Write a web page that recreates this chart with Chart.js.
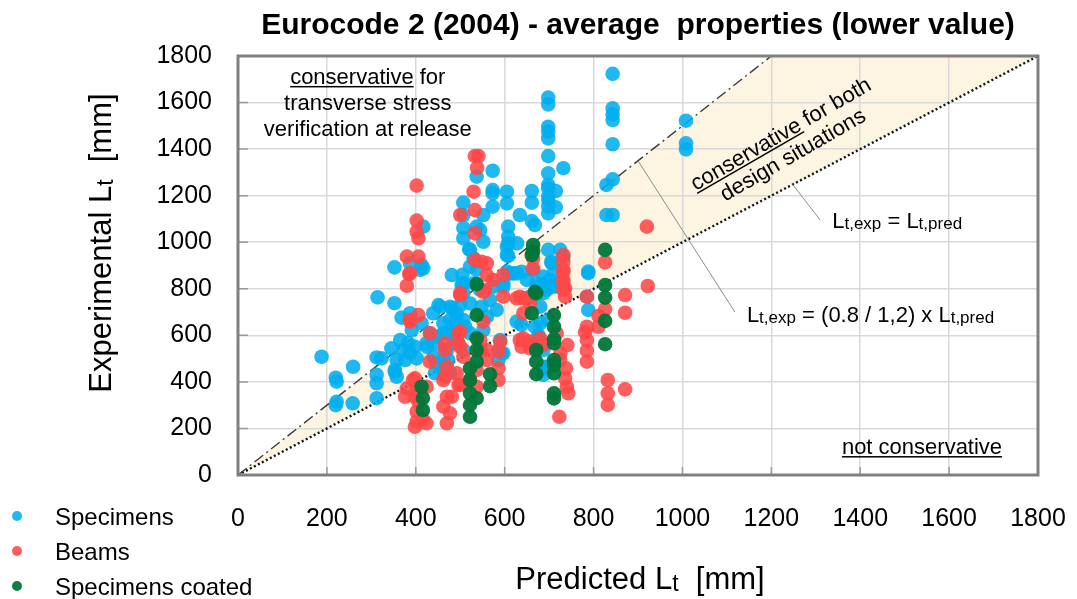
<!DOCTYPE html>
<html>
<head>
<meta charset="utf-8">
<title>Eurocode 2 (2004) - average properties (lower value)</title>
<script src="https://cdn.jsdelivr.net/npm/chart.js@4.4.1/dist/chart.umd.min.js"></script>
<style>
  html, body { margin: 0; padding: 0; background: #fff; }
  #wrap { position: relative; width: 1077px; height: 599px; }
</style>
</head>
<body>
<div id="wrap"><canvas id="ltChart"></canvas></div>
<script>
/* Transfer length: predicted vs experimental (EC2 average properties, lower value) */

// --- Data [Lt,pred, Lt,exp] in mm ---
const tickValues = [0, 200, 400, 600, 800, 1000, 1200, 1400, 1600, 1800];

const specimens = [
  [188,508],[220,418],[222,401],[222,315],[220,300],[259,465],[258,308],
  [312,505],[323,501],[312,430],[312,394],[312,330],[314,763],[352,738],[352,892],
  [368,676],[353,451],[357,422],[345,544],[365,580],[376,494],[387,524],[383,567],
  [357,494],[353,444],[372,537],[391,623],[398,551],[402,501],[425,551],[432,609],
  [439,695],[447,566],[455,723],[462,609],[470,537],[473,494],[481,716],[485,637],
  [492,680],[500,730],[507,780],[511,637],[522,737],[522,609],[530,823],[537,881],
  [545,795],[548,723],[552,623],[560,680],[567,752],[575,809],[582,709],[590,580],
  [593,523],[597,823],[605,874],[612,866],[627,866],[627,659],[650,838],[657,766],
  [664,881],[672,823],[680,723],[687,852],[695,795],[702,838],[706,909],[713,809],
  [732,938],[788,874],[785,766],[788,709],[680,652],[676,594],[687,537],[687,465],
  [586,537],[586,494],[447,480],[462,451],[443,437],[477,666],[492,580],[410,881],
  [387,909],[387,695],[413,652],[451,730],[462,652],[477,723],[492,695],[507,666],
  [424,566],[447,594],[470,609],[492,623],[440,508],[462,494],[485,566],[507,537],
  [477,437],[413,902],[417,888],[481,859],[507,823],[522,895],[530,931],[619,866],
  [597,809],[638,873],[676,809],[694,823],[710,866],[702,809],[687,781],[698,666],
  [676,580],[694,465],[605,945],[687,458],[687,430],[668,637],[676,601],[597,523],
  [638,645],[417,1067],[520,970],[505,860],[507,1170],[507,1117],[552,1117],[507,1062],
  [537,1067],[545,1052],[552,1002],[507,1017],[537,1282],[503,816],[522,967],
  [573,1307],[573,1224],[573,1210],[573,1153],[605,1217],[605,1167],[608,1067],
  [608,1024],[608,995],[608,941],[605,981],[634,1117],[628,995],
  [661,1220],[661,1170],[661,1091],[668,1074],
  [698,1621],[698,1592],[698,1496],[698,1475],[698,1446],[698,1370],[698,1296],
  [698,1246],[698,1232],[698,1196],[698,1181],[698,1153],[698,1124],[715,1220],
  [715,1150],[698,967],[725,967],[705,916],[732,1318],[788,867],
  [843,1723],[843,1575],[843,1550],[843,1525],[843,1421],[843,1270],[829,1246],
  [829,1117],[843,1117],[1008,1522],[1008,1425],[1008,1399]
];

const beams = [
  [402,1243],[533,1370],[541,1370],[538,1320],[530,1217],[533,1138],[500,1117],[533,1038],
  [402,1093],[402,1045],[406,1017],[380,938],[406,938],[385,863],[380,813],[533,924],
  [548,916],[560,909],[552,787],[500,773],[920,1067],[826,914],[922,812],[871,773],
  [732,945],[732,916],[732,873],[732,830],[736,802],[664,888],[664,931],[785,766],
  [871,697],[826,712],[811,683],[811,637],[785,637],[781,613],[785,580],[785,534],
  [785,487],[832,408],[832,351],[832,301],[871,368],[723,250],[741,558],[725,523],
  [725,494],[738,458],[736,415],[740,379],[743,351],[717,609],[657,573],[634,580],
  [638,551],[642,695],[634,766],[649,759],[586,458],[586,408],[590,573],[586,530],
  [556,795],[597,766],[387,666],[406,687],[432,609],[432,487],[466,566],[466,537],
  [496,609],[496,566],[380,372],[394,408],[398,336],[402,272],[398,207],[417,236],
  [424,379],[680,587],[642,587],[657,544],[687,558],[627,759],[642,759],[657,738],
  [732,881],[732,838],[732,795],[736,766],[597,859],[574,838],[560,859],[552,659],
  [545,580],[545,537],[560,537],[560,494],[537,451],[537,379],[522,408],[500,781],
  [500,616],[500,551],[492,437],[500,387],[507,508],[387,866],[398,415],[402,358],
  [406,315],[402,229],[424,222],[376,336],[462,408],[470,336],[462,294],[477,265],
  [470,222],[496,387],[481,336],[470,465],[466,422],[387,659]
];

const coated = [
  [537,820],[664,988],[664,960],[661,945],[826,967],[826,816],[826,762],[668,787],
  [826,662],[826,562],[711,687],[711,637],[711,583],[711,566],[711,494],[711,473],
  [711,437],[711,351],[711,329],[671,537],[671,487],[671,433],[661,695],[671,780],
  [567,433],[567,382],[537,687],[537,587],[537,537],[537,487],[522,458],[522,408],
  [522,351],[522,301],[522,250],[537,330],[413,379],[416,330],[416,279]
];

// reference lines: Lt,exp = 1.5 Lt,pred and Lt,exp = Lt,pred
const upperLimit = [[0, 0], [1200, 1800]];
const equalLine = [[0, 0], [1800, 1800]];

// leader lines for the two line labels (data units)
const leaders = [
  [[900, 1350], [1118, 700]],
  [[1248, 1248], [1310, 1095]]
];

const FONT = "'Liberation Sans', Arial, sans-serif";
const COL_SPEC = 'rgba(0,174,239,0.88)';
const COL_BEAM = 'rgba(255,72,72,0.88)';
const COL_COAT = 'rgba(0,118,56,0.95)';

const toPts = arr => arr.map(p => ({ x: p[0], y: p[1] }));

// --- Text helpers ---
function richWidth(ctx, parts) {
    let w = 0;
    parts.forEach(p => { ctx.font = p.font; w += ctx.measureText(p.text).width; });
    return w;
}

function drawRich(ctx, parts, x, y, align) {
    let cx = align === 'center' ? x - richWidth(ctx, parts) / 2 : x;
    ctx.textAlign = 'left';
    ctx.textBaseline = 'alphabetic';
    parts.forEach(p => {
        ctx.font = p.font;
        ctx.fillText(p.text, cx, y + (p.dy || 0));
        const w = ctx.measureText(p.text).width;
        if (p.underline) ctx.fillRect(cx, y + 2, w, 1.5);
        cx += w;
    });
}

function ltLabel(sub, size) {
    return [
        { text: 'L', font: size + 'px ' + FONT },
        { text: 't,' + sub, font: Math.round(size * 0.78) + 'px ' + FONT, dy: 1 }
    ];
}

// --- Decorations: band, frame, notes, titles, legend ---
const decor = {
    id: 'decor',
    beforeDraw(chart) {
        const { ctx } = chart;
        const xs = chart.scales.x, ys = chart.scales.y;
        const band = [upperLimit[0], upperLimit[1], equalLine[1]];
        ctx.save();
        ctx.fillStyle = '#fdf5e1';
        ctx.beginPath();
        band.forEach((p, i) => {
            const px = xs.getPixelForValue(p[0]), py = ys.getPixelForValue(p[1]);
            if (i === 0) ctx.moveTo(px, py); else ctx.lineTo(px, py);
        });
        ctx.closePath();
        ctx.fill();
        ctx.restore();
    },
    afterDatasetsDraw(chart) {
        const { ctx, chartArea: a } = chart;
        const xs = chart.scales.x, ys = chart.scales.y;
        const X = v => xs.getPixelForValue(v), Y = v => ys.getPixelForValue(v);
        ctx.save();

        // inner tick marks
        ctx.strokeStyle = '#9a9a9a';
        ctx.lineWidth = 1.5;
        tickValues.forEach(v => {
            ctx.beginPath();
            ctx.moveTo(a.left, Y(v)); ctx.lineTo(a.left + 10, Y(v));
            ctx.moveTo(X(v), a.bottom); ctx.lineTo(X(v), a.bottom - 8);
            ctx.stroke();
        });

        // leader lines
        ctx.strokeStyle = '#8c8c8c';
        ctx.lineWidth = 1;
        leaders.forEach(l => {
            ctx.beginPath();
            ctx.moveTo(X(l[0][0]), Y(l[0][1]));
            ctx.lineTo(X(l[1][0]), Y(l[1][1]));
            ctx.stroke();
        });

        // frame
        ctx.strokeStyle = '#808080';
        ctx.lineWidth = 3;
        ctx.strokeRect(a.left, a.top, a.right - a.left, a.bottom - a.top);

        // notes
        ctx.fillStyle = '#000';
        const f22 = '22px ' + FONT;
        const bx = X(292), by = Y(1680);
        drawRich(ctx, [{ text: 'conservative', font: f22, underline: true }, { text: ' for', font: f22 }], bx, by, 'center');
        drawRich(ctx, [{ text: 'transverse stress', font: f22 }], bx, by + 26, 'center');
        drawRich(ctx, [{ text: 'verification at release', font: f22 }], bx, by + 52, 'center');

        ctx.save();
        ctx.translate(X(1220), Y(1469));
        ctx.rotate(-30 * Math.PI / 180);
        drawRich(ctx, [{ text: 'conservative', font: f22, underline: true }, { text: ' for both', font: f22 }], 0, 8, 'center');
        drawRich(ctx, [{ text: 'design situations', font: f22 }], 0, 32, 'center');
        ctx.restore();

        drawRich(ctx, [{ text: 'not conservative', font: f22, underline: true }], X(1539), Y(90), 'center');

        drawRich(ctx, ltLabel('exp', 22).concat([{ text: ' = ', font: f22 }], ltLabel('pred', 22)), X(1337), Y(1061), 'left');
        drawRich(ctx, ltLabel('exp', 22).concat([{ text: ' = (0.8 / 1,2) x ', font: f22 }], ltLabel('pred', 22)), X(1145), Y(657), 'left');

        ctx.restore();
    },
    afterDraw(chart) {
        const { ctx, chartArea: a } = chart;
        ctx.save();
        ctx.fillStyle = '#000';

        // title
        ctx.font = 'bold 30px ' + FONT;
        ctx.textAlign = 'center';
        ctx.textBaseline = 'alphabetic';
        ctx.fillText('Eurocode 2 (2004) - average  properties (lower value)', 638, 34, 767);

        // axis titles
        const f31 = '31px ' + FONT, f23 = '23px ' + FONT;
        drawRich(ctx, [
            { text: 'Predicted L', font: f31 }, { text: 't', font: f23, dy: 2 }, { text: '  [mm]', font: f31 }
        ], 640, 589, 'center');

        ctx.save();
        ctx.translate(111, 243);
        ctx.rotate(-Math.PI / 2);
        drawRich(ctx, [
            { text: 'Experimental L', font: f31 }, { text: 't', font: f23, dy: 2 }, { text: '  [mm]', font: f31 }
        ], 0, 0, 'center');
        ctx.restore();

        // legend
        const items = [['Specimens', COL_SPEC], ['Beams', COL_BEAM], ['Specimens coated', COL_COAT]];
        items.forEach((it, i) => {
            const cy = 516 + i * 35;
            ctx.fillStyle = it[1];
            ctx.beginPath();
            ctx.arc(17, cy, 5, 0, Math.PI * 2);
            ctx.fill();
            ctx.fillStyle = '#000';
            ctx.font = '24px ' + FONT;
            ctx.textAlign = 'left';
            ctx.fillText(it[0], 55, cy + 9);
        });
        ctx.restore();
    }
};

// --- Chart ---
function pointSet(label, arr, color, order) {
    return {
        label, data: toPts(arr), order,
        backgroundColor: color, borderColor: color,
        pointRadius: 7.3, pointBorderWidth: 0, pointHoverRadius: 7.3
    };
}

const axisCommon = {
    type: 'linear', min: 0, max: 1800,
    afterBuildTicks: s => { s.ticks = tickValues.map(v => ({ value: v })); },
    grid: { color: '#d9d9d9', lineWidth: 1.5, drawTicks: false },
    border: { display: false },
    ticks: { color: '#000', font: { family: FONT, size: 25 }, callback: v => String(v) }
};

// keep the plot box fixed: no extra room reserved for edge labels
const noEdgePad = s => { s.paddingLeft = 0; s.paddingRight = 0; s.paddingTop = 0; s.paddingBottom = 0; };

new Chart(document.getElementById('ltChart'), {
    type: 'scatter',
    data: {
        datasets: [
            pointSet('Specimens coated', coated, COL_COAT, 1),
            pointSet('Beams', beams, COL_BEAM, 2),
            pointSet('Specimens', specimens, COL_SPEC, 3),
            {
                label: 'Lt,exp = (0.8 / 1,2) x Lt,pred', data: toPts(upperLimit), order: 4,
                showLine: true, borderColor: '#3a3a3a', borderWidth: 1.4,
                borderDash: [11, 4, 2, 4], pointRadius: 0
            },
            {
                label: 'Lt,exp = Lt,pred', data: toPts(equalLine), order: 4,
                showLine: true, borderColor: '#111', borderWidth: 2.4,
                borderDash: [2, 2.5], pointRadius: 0
            }
        ]
    },
    options: {
        responsive: true,
        maintainAspectRatio: false,
        animation: false,
        events: [],
        layout: { padding: { top: 56, right: 39, left: 0, bottom: 0 } },
        plugins: { legend: { display: false }, title: { display: false }, tooltip: { enabled: false } },
        scales: {
            x: Object.assign({}, axisCommon, {
                afterFit: s => { s.height = 124; noEdgePad(s); },
                ticks: Object.assign({}, axisCommon.ticks, { padding: 29, maxRotation: 0 })
            }),
            y: Object.assign({}, axisCommon, {
                afterFit: s => { s.width = 238; noEdgePad(s); },
                ticks: Object.assign({}, axisCommon.ticks, { padding: 26 })
            })
        }
    },
    plugins: [decor]
});
</script>
</body>
</html>
